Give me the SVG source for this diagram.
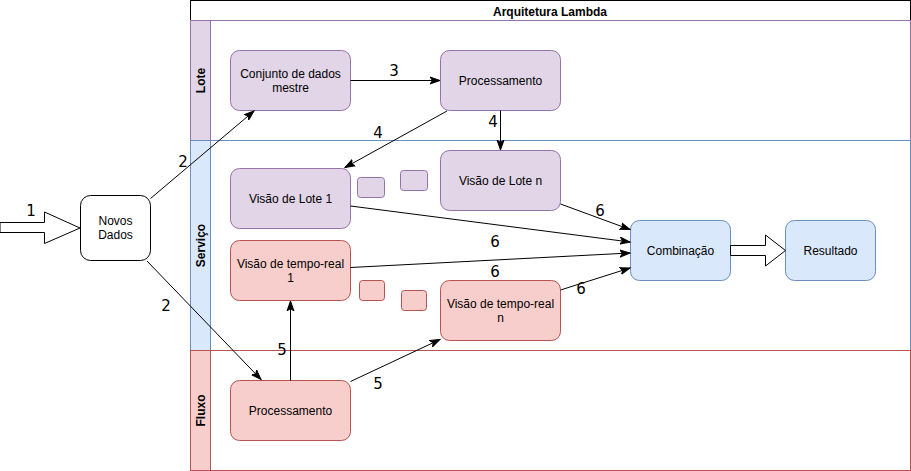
<svg xmlns="http://www.w3.org/2000/svg" width="911" height="471" viewBox="0 0 911 471">
<style>
.lbl{font-family:"Liberation Sans",Arial,sans-serif;font-size:12px;fill:#000;text-anchor:middle}
.bold{font-weight:bold}
.num{font-family:"DejaVu Sans",sans-serif;font-size:15px;fill:#000;text-anchor:middle}
.pur{fill:#e1d5e7;stroke:#9673a6;stroke-width:1}
.red{fill:#f8cecc;stroke:#b85450;stroke-width:1}
.blu{fill:#dae8fc;stroke:#6c8ebf;stroke-width:1}
.wht{fill:#fff;stroke:#000;stroke-width:1}
.edge{fill:none;stroke:#000;stroke-width:1;marker-end:url(#arr)}
.big{fill:#fff;stroke:#000;stroke-width:1}
</style>
<defs>
<marker id="arr" markerUnits="userSpaceOnUse" markerWidth="12" markerHeight="10" viewBox="0 0 12 10" refX="10" refY="5" orient="auto">
<path d="M0,1.5 L10,5 L0,8.5 L2.5,5 Z" fill="#000" stroke="#000" stroke-width="1"/>
</marker>
</defs>
<rect width="911" height="471" fill="#fff"/>
<g id="pool">
<rect x="190.5" y="0.5" width="720" height="20" fill="#fff" stroke="#000"/>
<text class="lbl bold" x="550" y="16">Arquitetura Lambda</text>
</g>
<g id="lane-lote">
<rect x="190.5" y="20.5" width="720" height="120" fill="#fff" stroke="#9673a6"/>
<rect x="190.5" y="20.5" width="20" height="120" class="pur"/>
<text class="lbl bold" transform="translate(204.5,80.5) rotate(-90)">Lote</text>
</g>
<g id="lane-servico">
<rect x="190.5" y="140.5" width="720" height="210" fill="#fff" stroke="#6c8ebf"/>
<rect x="190.5" y="140.5" width="20" height="210" class="blu"/>
<text class="lbl bold" transform="translate(204.5,245.5) rotate(-90)">Serviço</text>
</g>
<g id="lane-fluxo">
<rect x="190.5" y="350.5" width="720" height="120" fill="#fff" stroke="#b85450"/>
<rect x="190.5" y="350.5" width="20" height="120" class="red"/>
<text class="lbl bold" transform="translate(204.5,410.5) rotate(-90)">Fluxo</text>
</g>
<g id="novos-dados">
<rect x="80.5" y="195.5" width="70" height="65" rx="10" class="wht"/>
<text class="lbl" x="115.5" y="225">Novos</text>
<text class="lbl" x="115.5" y="239">Dados</text>
</g>
<g id="conjunto">
<rect x="230.5" y="50.5" width="120" height="60" rx="9" class="pur"/>
<text class="lbl" x="290.5" y="78">Conjunto de dados</text>
<text class="lbl" x="290.5" y="92">mestre</text>
</g>
<g id="proc-lote">
<rect x="440.5" y="50.5" width="120" height="60" rx="9" class="pur"/>
<text class="lbl" x="500.5" y="85">Processamento</text>
</g>
<g id="visao-lote-1">
<rect x="230.5" y="168.5" width="120" height="60" rx="9" class="pur"/>
<text class="lbl" x="290.5" y="203">Visão de Lote 1</text>
</g>
<g id="visao-lote-n">
<rect x="440.5" y="150.5" width="120" height="60" rx="9" class="pur"/>
<text class="lbl" x="500.5" y="185">Visão de Lote n</text>
</g>
<g id="mini-pur-1"><rect x="357.5" y="177.5" width="27" height="20" rx="3" class="pur"/></g>
<g id="mini-pur-2"><rect x="400.5" y="170.5" width="27" height="20" rx="3" class="pur"/></g>
<g id="visao-tr-1">
<rect x="230.5" y="240.5" width="120" height="60" rx="9" class="red"/>
<text class="lbl" x="290.5" y="268">Visão de tempo-real</text>
<text class="lbl" x="290.5" y="282">1</text>
</g>
<g id="visao-tr-n">
<rect x="440.5" y="280.5" width="120" height="60" rx="9" class="red"/>
<text class="lbl" x="500.5" y="308">Visão de tempo-real</text>
<text class="lbl" x="500.5" y="322">n</text>
</g>
<g id="mini-red-1"><rect x="359.5" y="280.5" width="25" height="20" rx="3" class="red"/></g>
<g id="mini-red-2"><rect x="401.5" y="290.5" width="25" height="20" rx="3" class="red"/></g>
<g id="proc-fluxo">
<rect x="230.5" y="380.5" width="120" height="60" rx="9" class="red"/>
<text class="lbl" x="290.5" y="415">Processamento</text>
</g>
<g id="combinacao">
<rect x="630.5" y="220.5" width="100" height="60" rx="9" class="blu"/>
<text class="lbl" x="680.5" y="255">Combinação</text>
</g>
<g id="resultado">
<rect x="785.5" y="220.5" width="90" height="60" rx="9" class="blu"/>
<text class="lbl" x="830.5" y="255">Resultado</text>
</g>
<g id="connectors">
<path class="big" d="M0,222.5 L44.5,222.5 L44.5,212 L80,228 L44.5,243.5 L44.5,232.5 L0,232.5 Z"/>
<text class="num" x="31" y="215.5">1</text>
<path class="big" d="M730.5,245.5 L765.5,245.5 L765.5,235 L785.5,250.5 L765.5,266 L765.5,255.5 L730.5,255.5 Z"/>
<line class="edge" x1="150.5" y1="198.5" x2="254" y2="111"/>
<text class="num" x="183" y="166.5">2</text>
<line class="edge" x1="147" y1="261" x2="261" y2="379.5"/>
<text class="num" x="166" y="310.5">2</text>
<line class="edge" x1="350.5" y1="80.5" x2="440" y2="80.5"/>
<text class="num" x="394" y="75.5">3</text>
<line class="edge" x1="500.5" y1="110.5" x2="500.5" y2="150"/>
<text class="num" x="493" y="126.5">4</text>
<line class="edge" x1="447" y1="111" x2="345" y2="167.5"/>
<text class="num" x="378" y="137.5">4</text>
<line class="edge" x1="290.5" y1="380.5" x2="290.5" y2="301"/>
<text class="num" x="282" y="354.5">5</text>
<line class="edge" x1="350.5" y1="381.5" x2="440" y2="339.5"/>
<text class="num" x="378" y="388.5">5</text>
<line class="edge" x1="560.5" y1="204" x2="630" y2="229.5"/>
<text class="num" x="600" y="215.5">6</text>
<line class="edge" x1="350.5" y1="206" x2="630" y2="242"/>
<text class="num" x="495" y="246.5">6</text>
<line class="edge" x1="350.5" y1="267.5" x2="630" y2="253"/>
<text class="num" x="495" y="276.5">6</text>
<line class="edge" x1="560.5" y1="290" x2="630" y2="268"/>
<text class="num" x="581" y="293.5">6</text>
</g>
</svg>
